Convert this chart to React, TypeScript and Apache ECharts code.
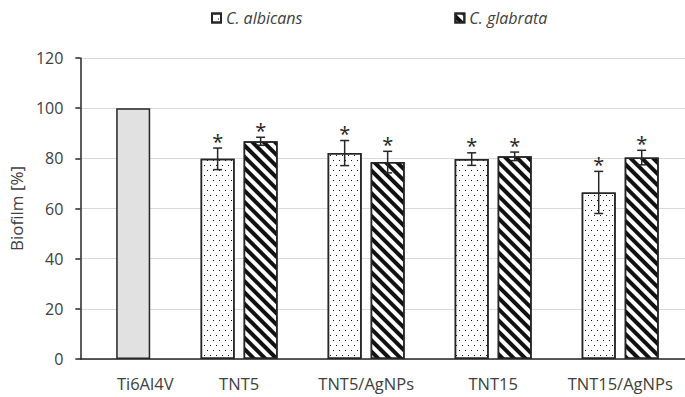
import React, { useEffect, useRef } from "react";
import * as echarts from "echarts";

// Surfaces on the x axis
const categories = ["Ti6Al4V", "TNT5", "TNT5/AgNPs", "TNT15", "TNT15/AgNPs"];

// Reference surface (single bar)
const controlValue: (number | null)[] = [100, null, null, null, null];

// Biofilm [%] per species, with standard deviations
const albicansValues: (number | null)[] = [null, 79.8, 82.1, 79.7, 66.4];
const albicansErrors: (number | null)[] = [null, 4.3, 5.0, 2.5, 8.4];
const glabrataValues: (number | null)[] = [null, 86.8, 78.5, 80.8, 80.3];
const glabrataErrors: (number | null)[] = [null, 1.6, 4.3, 1.7, 2.9];

// Significance marks above each species bar
const albicansSignificant = [false, true, true, true, true];
const glabrataSignificant = [false, true, true, true, true];

const seriesNames = ["C. albicans", "C. glabrata"];

const yMin = 0;
const yMax = 120;
const yStep = 20;

const FONT = "'Open Sans', 'Noto Sans', sans-serif";
const TEXT = "#404040";
const EDGE = "#262626";
const BAR_W = 34;
const BAR_GAP = 9;

const pairs = (vals: (number | null)[]) =>
  vals
    .map((v, i) => (v == null ? null : [i, v]))
    .filter((d) => d !== null) as number[][];

// [category index, value, error, side (-1 left / +1 right), significant]
const errorRows = (
  vals: (number | null)[],
  errs: (number | null)[],
  sig: boolean[],
  side: number
) =>
  vals
    .map((v, i) =>
      v == null ? null : [i, v, errs[i] ?? 0, side, sig[i] ? 1 : 0]
    )
    .filter((d) => d !== null) as number[][];

// indices of categories holding the species pairs vs the control
const pairIdx = categories.map((_, i) => i).filter((i) => albicansValues[i] != null);
const controlIdx = categories.map((_, i) => i).filter((i) => controlValue[i] != null);

export default function App() {
  const ref = useRef<HTMLDivElement>(null);

  useEffect(() => {
    if (!ref.current) return;
    const chart = echarts.init(ref.current, undefined, { renderer: "svg" });

    const labelStyle = {
      formatter: (v: number) => categories[Math.round(v)] ?? "",
      fontFamily: FONT,
      fontSize: 16.5,
      color: TEXT,
      margin: 16,
    };

    const renderError = (params: any, api: any) => {
      const x = api.value(0);
      const v = api.value(1);
      const e = api.value(2);
      const side = api.value(3);
      const sig = api.value(4);
      const off = (side * (BAR_W + BAR_GAP)) / 2;
      const top = api.coord([x, v + e]);
      const bot = api.coord([x, v - e]);
      const cx = top[0] + off;
      const children: any[] = [
        {
          type: "line",
          shape: { x1: cx, y1: top[1], x2: cx, y2: bot[1] },
          style: { stroke: EDGE, lineWidth: 1.5 },
        },
        {
          type: "line",
          shape: { x1: cx - 4.5, y1: top[1], x2: cx + 4.5, y2: top[1] },
          style: { stroke: EDGE, lineWidth: 1.5 },
        },
        {
          type: "line",
          shape: { x1: cx - 4.5, y1: bot[1], x2: cx + 4.5, y2: bot[1] },
          style: { stroke: EDGE, lineWidth: 1.5 },
        },
      ];
      if (sig) {
        children.push({
          type: "text",
          x: cx,
          y: top[1] - 7,
          style: {
            text: "*",
            fontFamily: FONT,
            fontSize: 20,
            fill: EDGE,
            align: "center",
            verticalAlign: "middle",
          },
        });
      }
      return { type: "group", children };
    };

    chart.setOption({
      animation: false,
      backgroundColor: "#ffffff",
      textStyle: { fontFamily: FONT },
      legend: {
        data: seriesNames,
        top: 5,
        left: 206,
        icon: "rect",
        itemWidth: 9,
        itemHeight: 9,
        itemGap: 152,
        textStyle: {
          fontFamily: FONT,
          fontSize: 16,
          fontStyle: "italic",
          color: TEXT,
        },
      },
      grid: { left: 79, right: 0, top: 58, bottom: 38 },
      xAxis: [
        {
          // axis for the species pairs
          type: "value",
          position: "bottom",
          min: -0.25,
          max: 4.51,
          splitLine: { show: false },
          axisTick: { show: false },
          axisLine: {
            show: true,
            onZero: false,
            lineStyle: { color: EDGE, width: 1.5 },
          },
          axisLabel: { ...labelStyle, customValues: pairIdx },
        },
        {
          // axis for the reference surface
          type: "value",
          position: "bottom",
          min: -0.416,
          max: 4.343,
          splitLine: { show: false },
          axisTick: { show: false },
          axisLine: { show: false, onZero: false },
          axisLabel: {
            ...labelStyle,
            customValues: controlIdx,
            padding: [0, 0, 0, 24],
          },
        },
      ],
      yAxis: {
        type: "value",
        min: yMin,
        max: yMax,
        interval: yStep,
        name: "Biofilm [%]",
        nameLocation: "middle",
        nameGap: 52,
        nameTextStyle: { fontFamily: FONT, fontSize: 17, color: TEXT },
        axisLine: {
          show: true,
          onZero: false,
          lineStyle: { color: EDGE, width: 1.5 },
        },
        axisTick: { show: true, length: 5, lineStyle: { color: EDGE, width: 1.5 } },
        axisLabel: { fontFamily: FONT, fontSize: 16, color: TEXT, margin: 17 },
        splitLine: { show: true, lineStyle: { color: "#d9d9d9", width: 1 } },
      },
      series: [
        {
          name: "Ti6Al4V",
          type: "bar",
          xAxisIndex: 1,
          barWidth: BAR_W,
          data: pairs(controlValue),
          itemStyle: { color: "#e1e1e1", borderColor: EDGE, borderWidth: 1.5 },
        },
        {
          name: seriesNames[0],
          type: "bar",
          xAxisIndex: 0,
          barWidth: BAR_W,
          barGap: `${(BAR_GAP / BAR_W) * 100}%`,
          data: pairs(albicansValues),
          itemStyle: {
            color: "#ffffff",
            borderColor: EDGE,
            borderWidth: 1.5,
            decal: {
              symbol: "rect",
              symbolSize: 1,
              color: "#111111",
              backgroundColor: "#ffffff",
              dashArrayX: [
                [1, 5],
                [0, 3, 1, 2],
              ],
              dashArrayY: [1, 3.5],
            },
          },
        },
        {
          name: seriesNames[1],
          type: "bar",
          xAxisIndex: 0,
          barWidth: BAR_W,
          barGap: `${(BAR_GAP / BAR_W) * 100}%`,
          data: pairs(glabrataValues),
          itemStyle: {
            color: "#ffffff",
            borderColor: EDGE,
            borderWidth: 1.5,
            decal: {
              symbol: "rect",
              symbolSize: 1,
              color: "#111111",
              backgroundColor: "#ffffff",
              dashArrayX: [1, 0],
              dashArrayY: [3.8, 3.2],
              rotation: Math.PI / 4,
            },
          },
        },
        {
          name: "albicans-sd",
          type: "custom",
          xAxisIndex: 0,
          z: 5,
          renderItem: renderError,
          data: errorRows(albicansValues, albicansErrors, albicansSignificant, -1),
          encode: { x: 0, y: 1 },
        },
        {
          name: "glabrata-sd",
          type: "custom",
          xAxisIndex: 0,
          z: 5,
          renderItem: renderError,
          data: errorRows(glabrataValues, glabrataErrors, glabrataSignificant, 1),
          encode: { x: 0, y: 1 },
        },
      ],
    });

    return () => chart.dispose();
  }, []);

  return (
    <div
      ref={ref}
      style={{ position: "absolute", left: 0, top: 0, width: 685, height: 397 }}
    />
  );
}
